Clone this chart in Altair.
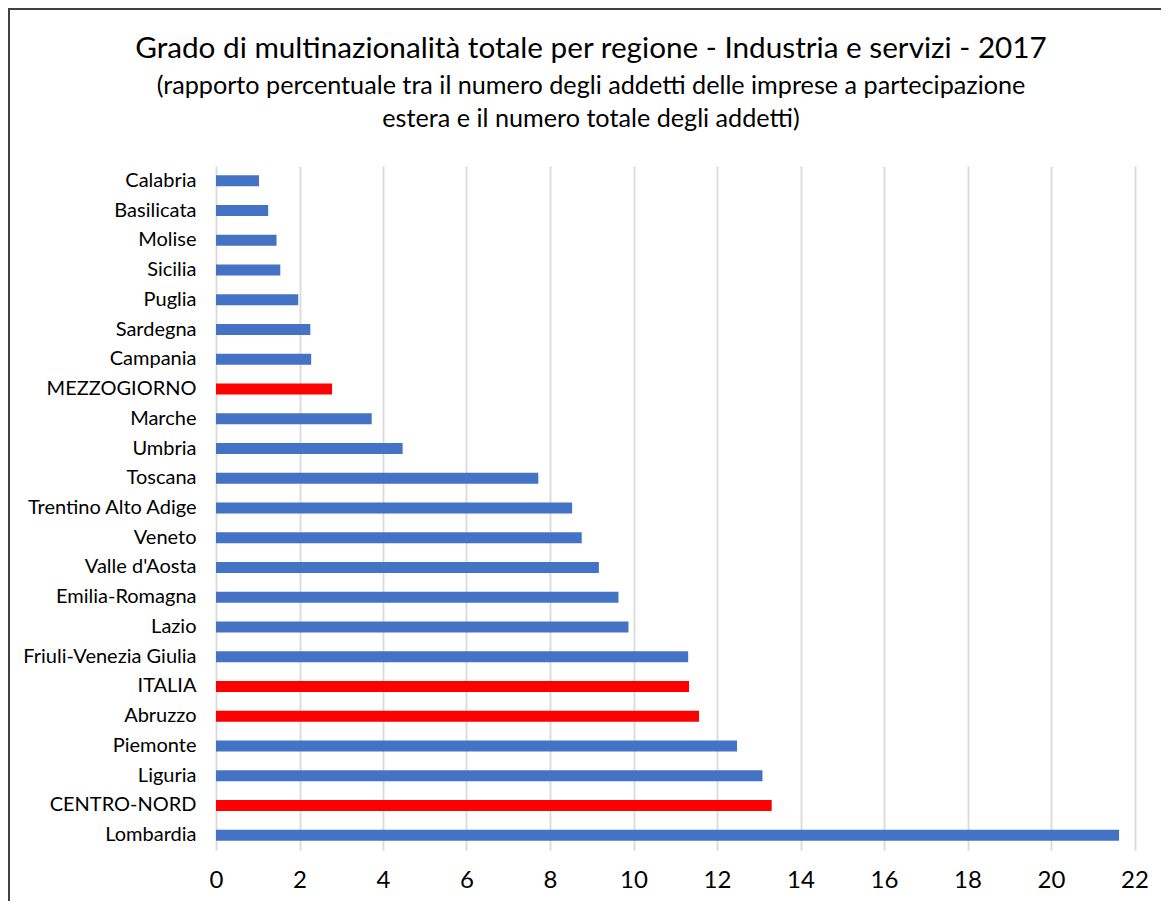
import altair as alt
import pandas as pd

categories = [
    "Calabria", "Basilicata", "Molise", "Sicilia", "Puglia", "Sardegna", "Campania",
    "MEZZOGIORNO", "Marche", "Umbria", "Toscana", "Trentino Alto Adige", "Veneto",
    "Valle d'Aosta", "Emilia-Romagna", "Lazio", "Friuli-Venezia Giulia", "ITALIA",
    "Abruzzo", "Piemonte", "Liguria", "CENTRO-NORD", "Lombardia",
]
values = [
    1.03, 1.25, 1.45, 1.54, 1.97, 2.26, 2.28,
    2.78, 3.73, 4.47, 7.72, 8.53, 8.76,
    9.17, 9.64, 9.88, 11.31, 11.33,
    11.57, 12.48, 13.09, 13.31, 21.63,
]
highlighted = ["MEZZOGIORNO", "ITALIA", "Abruzzo", "CENTRO-NORD"]
x_ticks = [0, 2, 4, 6, 8, 10, 12, 14, 16, 18, 20, 22]
title_text = "Grado di multinazionalità totale per regione - Industria e servizi - 2017"
subtitle_lines = [
    "(rapporto percentuale tra il numero degli addetti delle imprese a partecipazione",
    "estera e il numero totale degli addetti)",
]

df = pd.DataFrame({
    "regione": categories,
    "valore": values,
    "gruppo": ["evidenza" if c in highlighted else "regione" for c in categories],
})

FONT = "Lato"
W = 918.5
H = 684
PAD_L = 208
PAD_T = 158
TOTAL_W = 1153
TOTAL_H = 893
CX = 591 - 8 - PAD_L  # title centre in plot coords

bars = alt.Chart(df).mark_bar().encode(
    y=alt.Y(
        "regione:N",
        sort=categories,
        title=None,
        scale=alt.Scale(paddingInner=0.63, paddingOuter=0.315),
        axis=alt.Axis(
            ticks=False, domain=False, grid=False, labelPadding=20,
            labelFont=FONT, labelFontSize=20, labelColor="#000000",
            labelLimit=300,
        ),
    ),
    x=alt.X(
        "valore:Q",
        title=None,
        scale=alt.Scale(domain=[0, 22], nice=False, zero=True),
        axis=alt.Axis(
            values=x_ticks, ticks=False, domain=False, grid=True,
            gridColor="#d9d9d9", gridWidth=1.8,
            labelPadding=18, labelFont=FONT, labelFontSize=24,
            labelColor="#000000", labelFlush=False,
        ),
    ),
    color=alt.Color(
        "gruppo:N",
        scale=alt.Scale(domain=["regione", "evidenza"], range=["#4472C4", "#FF0000"]),
        legend=None,
    ),
)

title_mark = alt.Chart(pd.DataFrame({"t": [title_text]})).mark_text(
    font=FONT, fontSize=29.7, color="#000000", baseline="middle", align="center"
).encode(text="t:N", x=alt.value(CX), y=alt.value(49 - 8 - PAD_T))

sub1 = alt.Chart(pd.DataFrame({"t": [subtitle_lines[0]]})).mark_text(
    font=FONT, fontSize=25.2, color="#000000", baseline="middle", align="center"
).encode(text="t:N", x=alt.value(CX), y=alt.value(86 - 8 - PAD_T))

sub2 = alt.Chart(pd.DataFrame({"t": [subtitle_lines[1]]})).mark_text(
    font=FONT, fontSize=25.2, color="#000000", baseline="middle", align="center"
).encode(text="t:N", x=alt.value(CX), y=alt.value(119 - 8 - PAD_T))

border_top = alt.Chart(pd.DataFrame({"k": [0]})).mark_rule(color="#404040", strokeWidth=2).encode(
    x=alt.value(-PAD_L), x2=alt.value(TOTAL_W - PAD_L), y=alt.value(-PAD_T + 1)
)
border_left = alt.Chart(pd.DataFrame({"k": [0]})).mark_rule(color="#404040", strokeWidth=2).encode(
    x=alt.value(-PAD_L + 1), y=alt.value(-PAD_T), y2=alt.value(TOTAL_H - PAD_T)
)

chart = alt.layer(bars, title_mark, sub1, sub2, border_top, border_left).properties(
    width=W,
    height=H,
    autosize=alt.AutoSizeParams(type="none"),
    padding={"left": PAD_L, "top": PAD_T, "right": TOTAL_W - PAD_L - W, "bottom": TOTAL_H - PAD_T - H},
    view=alt.ViewBackground(strokeWidth=0, strokeOpacity=0),
).configure_view(strokeWidth=0, strokeOpacity=0).configure(background="#ffffff")

chart.save("out.html", embed_options={"renderer": "svg", "actions": False})
